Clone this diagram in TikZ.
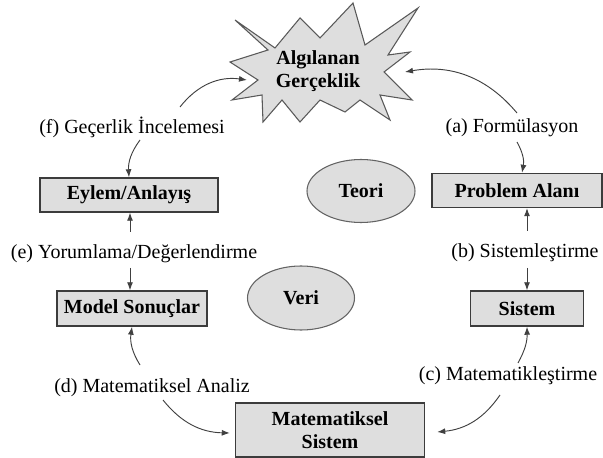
\documentclass[tikz,border=0pt]{standalone}
\usepackage{fontspec}
\setmainfont{Liberation Serif}
\usetikzlibrary{arrows.meta,calc,shapes.geometric}
\definecolor{boxgray}{HTML}{DEDEDE}
\definecolor{edgegray}{HTML}{3C3C3C}

\begin{document}
\begin{tikzpicture}[x=0.75pt,y=0.75pt,
  kutu/.style={draw=edgegray,line width=1.1pt,fill=boxgray,align=center,inner sep=0pt,
    font=\fontsize{15}{17}\selectfont\bfseries},
  elips/.style={ellipse,draw=edgegray!80,line width=0.8pt,fill=boxgray,inner sep=0pt,
    font=\fontsize{15}{17}\selectfont\bfseries},
  etiket/.style={inner sep=1pt,font=\fontsize{15}{17}\selectfont},
  ok/.style={-{Latex[length=6pt,width=4.5pt]},line width=0.7pt,draw=black!75}]
\useasboundingbox (0,0) rectangle (603,457);
% starburst
\draw[fill=boxgray,draw=edgegray!85,line width=0.8pt]
  (353,454) -- (365,412) -- (418,449) -- (388,402) -- (410,405) -- (384,385)
  -- (412,357) -- (380,362) -- (390,337) -- (360,357) -- (345,345) -- (320,357)
  -- (300,335) -- (282,357) -- (263,335) -- (262,362) -- (232,357) -- (258,377)
  -- (230,395) -- (268,407) -- (235,437) -- (275,409) -- (300,439) -- (320,419) -- cycle;
\node[align=center,font=\fontsize{15}{17}\selectfont\bfseries] (gercek) at (318,386) {Algılanan\\Gerçeklik};
\coordinate (gL) at (247,377);
\coordinate (gR) at (405,385);
% boxes
\node[kutu,minimum width=133.5pt,minimum height=25.5pt] (eylem) at (129,262) {Eylem/Anlayış};
\node[kutu,minimum width=127.5pt,minimum height=25.5pt] (problem) at (517,266.5) {Problem Alanı};
\node[kutu,minimum width=112.5pt,minimum height=26.25pt] (model) at (132,148.5) {Model Sonuçlar};
\node[kutu,minimum width=84.75pt,minimum height=26.25pt] (sistem) at (527,148.5) {Sistem};
\node[kutu,minimum width=141.75pt,minimum height=40.5pt] (matsis) at (330,27) {Matematiksel\\Sistem};
\node[elips,minimum width=81pt,minimum height=47.25pt] (teori) at (361,266) {Teori};
\node[elips,minimum width=80.25pt,minimum height=48pt] (veri) at (301,159) {Veri};
% labels
\node[etiket] (lf) at (132,330) {(f) Geçerlik İncelemesi};
\node[etiket] (la) at (512,329) {(a) Formülasyon};
\node[etiket] (le) at (134,203) {(e) Yorumlama/Değerlendirme};
\node[etiket] (lb) at (525,204) {(b) Sistemleştirme};
\node[etiket] (ld) at (152,69) {(d) Matematiksel Analiz};
\node[etiket] (lc) at (508,81) {(c) Matematikleştirme};
% connectors
\draw[ok] ($(lf)+(48,20)$) to[bend left=30] (gL);
\draw[ok] ($(lf)+(8,-13)$) to[bend right=20] (eylem.north);
\draw[ok] ($(la)+(5,15)$) to[bend right=30] (gR);
\draw[ok] ($(la)+(5,-14)$) to[bend left=20] ($(problem.north)+(5,0)$);
\coordinate (e1) at ($(le)+(-4,22)$);
\coordinate (e2) at ($(le)+(-4,-14)$);
\draw[ok] (e1) -- (e1 |- eylem.south);
\draw[ok] (e2) -- (e2 |- model.north);
\coordinate (b1) at ($(lb)+(2,22)$);
\coordinate (b2) at ($(lb)+(2,-15)$);
\draw[ok] (b1) -- (b1 |- problem.south);
\draw[ok] (b2) -- (b2 |- sistem.north);
\draw[ok] ($(lc)+(10,13)$) to[bend right=15] (sistem.south);
\draw[ok] ($(lc)+(-8,-19)$) to[bend left=25] ($(matsis.east)+(12,-2)$);
\draw[ok] ($(ld)+(-12,23)$) to[bend left=20] (model.south);
\draw[ok] ($(ld)+(11,-12)$) to[bend right=25] ($(matsis.west)+(-5,-3)$);
\end{tikzpicture}
\end{document}
